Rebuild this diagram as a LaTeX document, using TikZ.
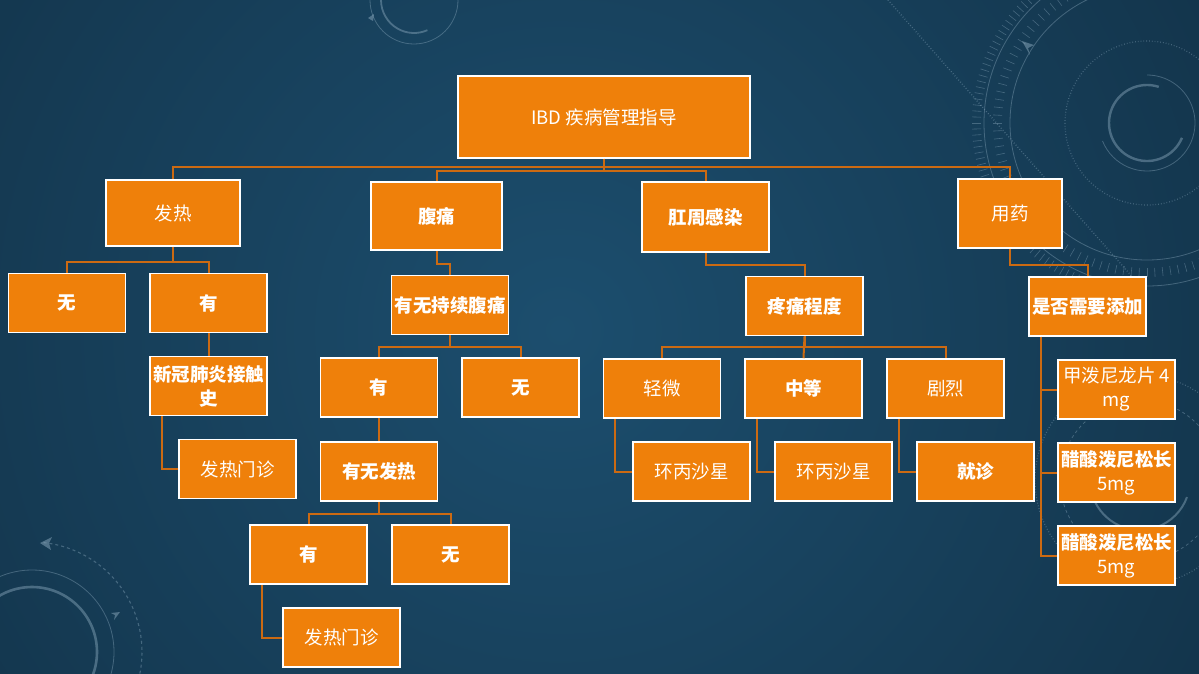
\documentclass[tikz,border=0pt]{standalone}
\usepackage{fontspec}
\newfontfamily\cjk{Noto Sans CJK SC}
\usetikzlibrary{arrows.meta}
\definecolor{bgin}{RGB}{28,78,110}
\definecolor{bgout}{RGB}{12,33,49}
\definecolor{boxor}{RGB}{239,128,10}
\definecolor{connc}{RGB}{204,106,18}
\definecolor{deco}{RGB}{140,170,190}
\begin{document}
\begin{tikzpicture}[x=1pt,y=-1pt,
  box/.style={draw=white, line width=1.6pt, fill=boxor, text=white, inner sep=0pt, align=center,
              font=\cjk\fontsize{18.5}{24}\selectfont},
  bx/.style={font=\cjk\bfseries\fontsize{18.5}{24}\selectfont},
  std/.style={box, minimum width=117pt, minimum height=59pt},
  conn/.style={draw=connc, line width=2pt},
  dec/.style={draw=deco, opacity=0.4, line width=0.8pt},
  decthick/.style={draw=deco, opacity=0.45, line width=2.4pt}]
\useasboundingbox (0,0) rectangle (1199,673);
\begin{scope}
\clip (0,0) rectangle (1199,673);
\shade[inner color=bgin, outer color=bgout] (560,330) circle (1300pt);
% top-right dial
\coordinate (tr) at (1147,123);
\draw[decthick] (tr) ++(72:38pt) arc[start angle=72, end angle=337, radius=38pt];
\draw[dec] (tr) ++(-158:48pt) arc[start angle=-158, end angle=90, radius=48pt];
\draw[dec, dotted, line width=1.2pt] (tr) circle (82pt);
\draw[dec] (tr) circle (137pt);
\draw[dec] (tr) circle (163pt);
\foreach \a in {0,3,...,357} \draw[dec, line width=0.6pt] (tr) ++(\a:145pt) -- ++(\a:9pt);
\foreach \a in {96,98,...,262} \draw[dec, line width=0.6pt] (tr) ++(\a:166pt) -- ++(\a:9pt);
\draw[dec, dotted, line width=1.4pt] (888,0) -- (1135,280);
\fill[deco, opacity=0.5] (1022,41) -- (1034,45) -- (1028,48) -- (1030,55) -- cycle;
% top-centre small dial
\coordinate (tc) at (414,0);
\draw[decthick, line width=1.8pt] (tc) ++(180:33pt) arc[start angle=180, end angle=294, radius=33pt];
\draw[dec] (tc) circle (44pt);
\fill[deco, opacity=0.5] (368,18) -- (374,14) -- (373,21) -- cycle;
% bottom-left dial
\coordinate (bl) at (32,652);
\draw[decthick, line width=2.6pt] (bl) circle (65pt);
\draw[dec] (bl) circle (82pt);
\draw[dec, dashed, line width=1.1pt] (bl) ++(84:110pt) arc[start angle=84, end angle=-15, radius=110pt];
\fill[deco, opacity=0.5] (40,543) -- (52,537) -- (49,543) -- (51,550) -- cycle;
\fill[deco, opacity=0.5] (111,613) -- (120,612) -- (114,620) -- (115,615) -- cycle;
% right-lower dial
\coordinate (rl) at (1140,480);
\draw[decthick, line width=2pt] (rl) ++(200:50pt) arc[start angle=200, end angle=340, radius=50pt];
\draw[dec, dashed] (rl) circle (80pt);
\draw[dec, dotted, line width=1.2pt] (rl) circle (105pt);
\end{scope}

% nodes
\node[box, minimum width=292pt, minimum height=82pt] (root) at (604,117) {IBD 疾病管理指导};
\node[box, minimum width=134pt, minimum height=66pt] (fever) at (173,213) {发热};
\node[box, bx, minimum width=131pt, minimum height=68pt] (abd) at (436.5,216) {腹痛};
\node[box, bx, minimum width=127pt, minimum height=70pt] (peri) at (705.5,217) {肛周感染};
\node[box, minimum width=104pt, minimum height=69pt] (med) at (1010,213.5) {用药};

\node[std, bx] (no1) at (67,303) {无};
\node[std, bx] (yes1) at (208.5,303) {有};
\node[std, bx] (covid) at (208.5,386) {新冠肺炎接触\\史};
\node[std] (clinic1) at (237.5,469) {发热门诊};

\node[std, bx] (persist) at (450,305) {有无持续腹痛};
\node[std, bx] (yes2) at (379,387.5) {有};
\node[std, bx] (no2) at (520.5,387.5) {无};
\node[std, bx] (feverq) at (379,471.5) {有无发热};
\node[std, bx] (yes3) at (308.5,554.5) {有};
\node[std, bx] (no3) at (450.5,554.5) {无};
\node[std] (clinic2) at (341.5,637.5) {发热门诊};

\node[std, bx] (pain) at (804.5,306) {疼痛程度};
\node[std] (mild) at (662,388.5) {轻微};
\node[std, bx] (mod) at (803.5,388.5) {中等};
\node[std] (sev) at (945.5,388.5) {剧烈};
\node[std] (cip1) at (691.5,471.5) {环丙沙星};
\node[std] (cip2) at (833.5,471.5) {环丙沙星};
\node[std, bx] (visit) at (975.5,471.5) {就诊};

\node[std, bx] (add) at (1087.5,306.5) {是否需要添加};
\node[std] (d1) at (1116.5,389.5) {甲泼尼龙片 4\\mg};
\node[std, bx] (d2) at (1116.5,472.5) {醋酸泼尼松长\\\mdseries 5mg};
\node[std, bx] (d3) at (1116.5,555.5) {醋酸泼尼松长\\\mdseries 5mg};

% connectors
\draw[conn] (root.south) -- ++(0,8) -| (fever.north);
\draw[conn] (root.south) -- ++(0,12) -| (abd.north);
\draw[conn] (root.south) -- ++(0,12) -| (peri.north);
\draw[conn] (root.south) -- ++(0,8) -| (med.north);

\draw[conn] (fever.south) -- ++(0,15) -| (no1.north);
\draw[conn] (fever.south) -- ++(0,15) -| (yes1.north);
\draw[conn] (yes1.south) -- (covid.north);
\draw[conn] ([xshift=-46.5pt]covid.south) |- (clinic1.west);

\draw[conn] (abd.south) -- ++(0,13) -| (persist.north);
\draw[conn] (persist.south) -- ++(0,12) -| (yes2.north);
\draw[conn] (persist.south) -- ++(0,12) -| (no2.north);
\draw[conn] (yes2.south) -- (feverq.north);
\draw[conn] (feverq.south) -- ++(0,12) -| (yes3.north);
\draw[conn] (feverq.south) -- ++(0,12) -| (no3.north);
\draw[conn] ([xshift=-46.5pt]yes3.south) |- (clinic2.west);

\draw[conn] (peri.south) -- ++(0,12) -| (pain.north);
\draw[conn] (pain.south) -- ++(0,11) -| (mild.north);
\draw[conn] (pain.south) -- (mod.north);
\draw[conn] (pain.south) -- ++(0,11) -| (sev.north);
\draw[conn] ([xshift=-47pt]mild.south) |- (cip1.west);
\draw[conn] ([xshift=-46.5pt]mod.south) |- (cip2.west);
\draw[conn] ([xshift=-46.5pt]sev.south) |- (visit.west);

\draw[conn] (med.south) -- ++(0,16) -| (add.north);
\draw[conn] ([xshift=-46.5pt]add.south) |- (d1.west);
\draw[conn] ([xshift=-46.5pt]add.south) |- (d2.west);
\draw[conn] ([xshift=-46.5pt]add.south) |- (d3.west);
\end{tikzpicture}
\end{document}
